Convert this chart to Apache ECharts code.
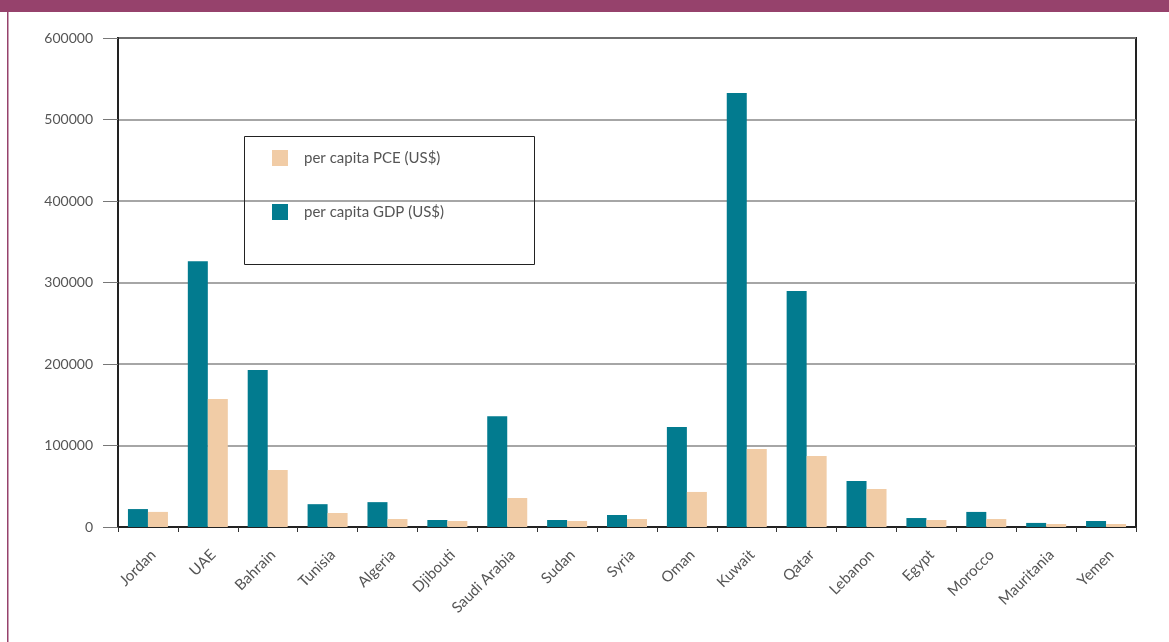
<!DOCTYPE html>
<html>
<head>
<meta charset="utf-8">
<script src="https://cdn.jsdelivr.net/npm/echarts@6/dist/echarts.min.js"></script>
<style>
  html, body { margin: 0; padding: 0; background: #fff; }
  #chart { width: 1169px; height: 642px; }
</style>
</head>
<body>
<div id="chart"></div>
<script>
// countries on the x axis
const countries = ['Jordan', 'UAE', 'Bahrain', 'Tunisia', 'Algeria', 'Djibouti', 'Saudi Arabia', 'Sudan', 'Syria',
  'Oman', 'Kuwait', 'Qatar', 'Lebanon', 'Egypt', 'Morocco', 'Mauritania', 'Yemen']
// per capita GDP (US$)
const gdp = [22000, 326000, 192500, 28000, 30500, 8600, 136000, 8600, 14700,
  122700, 532500, 289500, 56500, 11000, 18500, 5000, 7400]
// per capita PCE (US$)
const pce = [18500, 157000, 70000, 17200, 9800, 7400, 35600, 7400, 9800,
  43000, 95700, 87000, 46600, 8600, 9800, 3700, 3700]
const yTicks = [0, 100000, 200000, 300000, 400000, 500000, 600000]

const chart = echarts.init(document.getElementById('chart'))
const labelFont = { color: '#555', fontFamily: 'Lato', fontSize: 14 }

chart.setOption({
  animation: false,
  grid: {
    left: 118,
    right: 33,
    top: 38,
    bottom: 115,
    show: true,
    borderColor: '#222',
    borderWidth: 2
  },
  legend: {
    data: ['per capita PCE (US$)', 'per capita GDP (US$)'],
    orient: 'vertical',
    left: 272,
    top: 150,
    padding: 0,
    itemWidth: 16,
    itemHeight: 16,
    itemGap: 38,
    icon: 'rect',
    textStyle: { color: '#555', fontFamily: 'Lato', fontSize: 15, padding: [0, 0, 0, 11] }
  },
  graphic: [
    // header strip
    { type: 'rect', shape: { x: 0, y: 0, width: 1169, height: 12 }, style: { fill: '#96426c' } },
    // left border line
    { type: 'rect', shape: { x: 7, y: 12, width: 1.5, height: 630 }, style: { fill: '#96426c' } },
    // legend box
    { type: 'rect', shape: { x: 244.5, y: 136.5, width: 290, height: 128 }, style: { fill: 'none', stroke: '#222', lineWidth: 1 }, z: 10 }
  ],
  xAxis: {
    type: 'category',
    data: countries,
    axisLine: { lineStyle: { color: '#222', width: 2 } },
    axisTick: { show: true, length: 5, lineStyle: { color: '#333' } },
    axisLabel: Object.assign({ rotate: 45, margin: 20, interval: 0, verticalAlign: 'top' }, labelFont, { fontSize: 15 })
  },
  yAxis: {
    type: 'value',
    min: yTicks[0],
    max: yTicks[yTicks.length - 1],
    interval: 100000,
    axisLine: { show: true, lineStyle: { color: '#222', width: 2 } },
    axisTick: { show: true, length: 15, lineStyle: { color: '#777' } },
    axisLabel: Object.assign({ margin: 25, formatter: v => String(v) }, labelFont),
    splitLine: { lineStyle: { color: '#888', width: 1.5 } }
  },
  series: [
    {
      name: 'per capita GDP (US$)',
      type: 'bar',
      data: gdp,
      barWidth: 20,
      barGap: '0%',
      itemStyle: { color: '#027b8f' }
    },
    {
      name: 'per capita PCE (US$)',
      type: 'bar',
      data: pce,
      barWidth: 20,
      itemStyle: { color: '#f1cca6' }
    }
  ]
})
</script>
</body>
</html>
